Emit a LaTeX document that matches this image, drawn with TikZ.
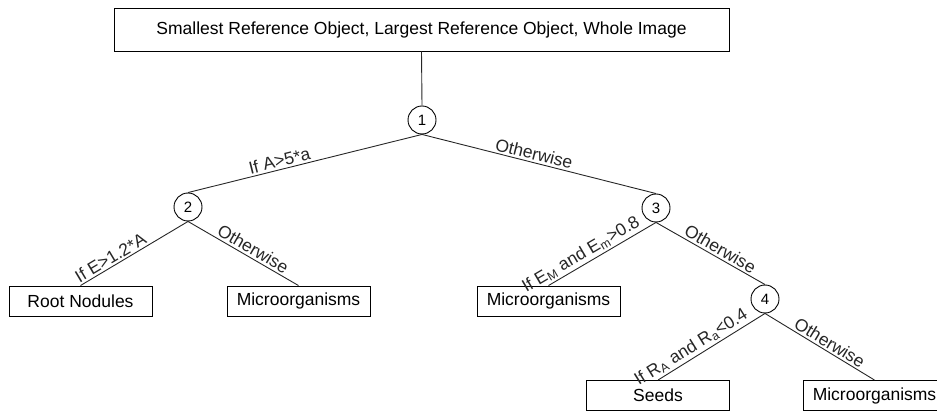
\documentclass[tikz,border=0pt]{standalone}
\usepackage{fontspec}
\setmainfont{Liberation Sans}
\usetikzlibrary{positioning}

\begin{document}
\begin{tikzpicture}[
    x=1pt, y=-1pt,
    font=\fontsize{17.5}{20}\selectfont,
    rootbox/.style={
        draw, line width=0.9pt, minimum width=615pt, minimum height=43pt, inner sep=0pt
    },
    leaf/.style={
        draw, line width=0.9pt, minimum width=143pt, minimum height=30pt, inner sep=0pt
    },
    split/.style={
        draw, circle, line width=0.9pt, minimum size=28pt, inner sep=0pt,
        font=\fontsize{15}{18}\selectfont
    },
    branch/.style={line width=0.9pt, black!85},
    cond/.style={sloped, above, inner sep=2pt},
]
\useasboundingbox (0,0) rectangle (937,411);

% ── Nodes ──
\node[rootbox] (root) at (421.5,29.5)
    {Smallest Reference Object, Largest Reference Object, Whole Image};

\node[split] (s1) at (422,120) {1};
\node[split] (s2) at (188,207) {2};
\node[split] (s3) at (656,208) {3};
\node[split] (s4) at (765,299) {4};

\node[leaf] (nodules) at (80.5,301)  {Root Nodules};
\node[leaf] (microA)  at (298.5,301) {Microorganisms};
\node[leaf] (microB)  at (548.5,301) {Microorganisms};
\node[leaf] (seeds)   at (658,395.5) {Seeds};
\node[leaf] (microC)  at (874.5,395.5) {Microorganisms};

% ── Branches ──
\draw[branch] (root.south) -- (s1.north);

\draw[branch] (s1.south) -- (s2.north) node[cond, pos=0.6] {If A>5*a};
\draw[branch] (s1.south) -- (s3.north) node[cond, pos=0.47] {Otherwise};

\draw[branch] (s2.south) -- (nodules.north) node[cond, pos=0.68] {If E>1.2*A};
\draw[branch] (s2.south) -- (microA.north)  node[cond, pos=0.55] {Otherwise};

\draw[branch] (s3.south) -- (microB.north)
    node[cond, pos=0.65] {If E\textsubscript{M} and E\textsubscript{m}>0.8};
\draw[branch] (s3.south) -- (s4.north) node[cond, pos=0.55] {Otherwise};

\draw[branch] (s4.south) -- (seeds.north)
    node[cond, pos=0.64] {If R\textsubscript{A} and R\textsubscript{a}<0.4};
\draw[branch] (s4.south) -- (microC.north) node[cond, pos=0.55] {Otherwise};

\end{tikzpicture}
\end{document}
